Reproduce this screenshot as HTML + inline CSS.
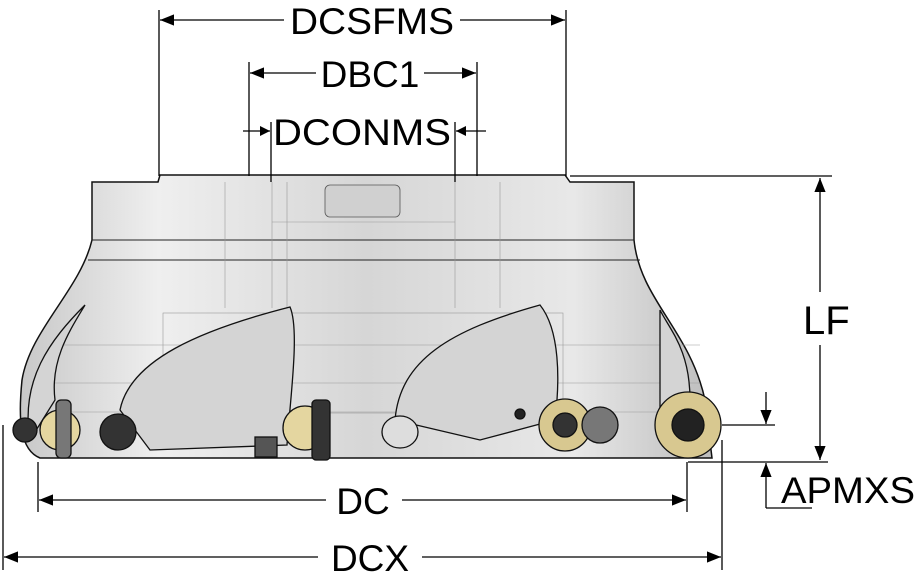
<!DOCTYPE html>
<html><head><meta charset="utf-8"><style>
html,body{margin:0;padding:0;background:#fff;width:918px;height:583px;overflow:hidden}
svg{display:block}
text{font-family:"Liberation Sans",sans-serif;fill:#000}
</style></head><body>
<svg width="918" height="583" viewBox="0 0 918 583" xmlns="http://www.w3.org/2000/svg">
<defs>
<linearGradient id="g" x1="0" y1="0" x2="1" y2="0">
<stop offset="0" stop-color="#c8c8c8"/><stop offset="0.2" stop-color="#efefef"/><stop offset="0.5" stop-color="#d6d6d6"/><stop offset="0.8" stop-color="#e8e8e8"/><stop offset="1" stop-color="#bdbdbd"/>
</linearGradient>
<marker id="a" viewBox="0 0 10 10" refX="10" refY="5" markerWidth="10" markerHeight="10" orient="auto-start-reverse" markerUnits="userSpaceOnUse"><path d="M0,0 L10,5 L0,10 z" fill="#000"/></marker>
<marker id="b" viewBox="0 0 10 10" refX="10" refY="5" markerWidth="14" markerHeight="14" orient="auto-start-reverse" markerUnits="userSpaceOnUse"><path d="M0,1 L10,5 L0,9 z" fill="#000"/></marker>
</defs>
<path d="M158,182 L160,175 L565,175 L570,182 L634,182 L634,240 C640,300 690,330 705,400 L712,458 L40,458 C20,450 18,420 22,380 C30,330 80,290 92,240 L92,182 Z" fill="url(#g)" stroke="#111" stroke-width="1.5"/>
<line x1="92" y1="240" x2="634" y2="240" stroke="#222" stroke-width="1"/>
<line x1="88" y1="260" x2="640" y2="260" stroke="#222" stroke-width="1"/>
<rect x="325" y="185" width="75" height="32" rx="5" fill="#d0d0d0" stroke="#555" stroke-width="0.8"/>
<g stroke="#999" stroke-width="0.6" fill="none">
<line x1="225" y1="182" x2="225" y2="308"/><line x1="272" y1="182" x2="272" y2="308"/>
<line x1="287" y1="182" x2="287" y2="308"/><line x1="455" y1="182" x2="455" y2="308"/>
<line x1="500" y1="182" x2="500" y2="308"/><line x1="272" y1="222" x2="455" y2="222"/>
<rect x="163" y="313" width="400" height="100"/>
<line x1="50" y1="345" x2="700" y2="345"/><line x1="50" y1="383" x2="700" y2="383"/><line x1="50" y1="412" x2="700" y2="412"/>
</g>
<g fill="#d4d4d4" stroke="#111" stroke-width="1.3">
<path d="M120,410 C130,360 200,330 290,307 C300,330 290,400 287,445 L150,450 Z"/>
<path d="M395,420 C400,360 450,330 540,305 C560,330 560,380 555,420 L480,440 Z"/>
<path d="M660,310 C670,330 690,350 690,400 L660,430 Z"/>
<path d="M30,440 C20,380 50,340 85,305 C70,330 50,360 55,400 Z"/>
</g>
<g stroke="#111" stroke-width="1.3">
<circle cx="25" cy="430" r="12" fill="#333"/>
<circle cx="60" cy="430" r="20" fill="#e4d6a0"/>
<rect x="56" y="400" width="15" height="58" rx="5" fill="#777"/>
<circle cx="118" cy="432" r="18" fill="#333"/>
<circle cx="305" cy="428" r="22" fill="#e4d6a0"/>
<rect x="312" y="400" width="18" height="60" rx="4" fill="#333"/>
<rect x="255" y="437" width="22" height="20" fill="#555"/>
<ellipse cx="400" cy="432" rx="18" ry="16" fill="#ddd"/>
<circle cx="520" cy="414" r="5" fill="#222"/>
<circle cx="565" cy="425" r="26" fill="#d8c890"/>
<circle cx="565" cy="425" r="12" fill="#333"/>
<circle cx="600" cy="425" r="18" fill="#777"/>
<circle cx="688" cy="425" r="33" fill="#d8c890"/>
<circle cx="688" cy="425" r="16" fill="#222"/>
</g>
<g stroke="#000" stroke-width="1.3" fill="none">
<line x1="159" y1="10" x2="159" y2="176"/><line x1="566" y1="10" x2="566" y2="176"/>
<line x1="160" y1="20" x2="284" y2="20" marker-start="url(#b)"/><line x1="460" y1="20" x2="565" y2="20" marker-end="url(#b)"/>
<line x1="249" y1="62" x2="249" y2="176"/><line x1="477" y1="62" x2="477" y2="176"/>
<line x1="250" y1="73" x2="316" y2="73" marker-start="url(#b)"/><line x1="424" y1="73" x2="476" y2="73" marker-end="url(#b)"/>
<line x1="271" y1="122" x2="271" y2="182"/><line x1="455" y1="122" x2="455" y2="182"/>
<line x1="243" y1="131" x2="270" y2="131" marker-end="url(#a)"/><line x1="486" y1="131" x2="456" y2="131" marker-end="url(#a)"/>
<line x1="570" y1="176" x2="832" y2="176"/>
<line x1="820" y1="178" x2="820" y2="292" marker-start="url(#b)"/><line x1="820" y1="345" x2="820" y2="460" marker-end="url(#b)"/>
<line x1="688" y1="462" x2="828" y2="462"/>
<line x1="722" y1="425" x2="775" y2="425"/>
<line x1="766" y1="392" x2="766" y2="424" marker-end="url(#b)"/>
<line x1="766" y1="508" x2="766" y2="463" marker-end="url(#b)"/><line x1="766" y1="508" x2="812" y2="508"/>
<line x1="38" y1="462" x2="38" y2="512"/><line x1="687" y1="462" x2="687" y2="512"/>
<line x1="39" y1="500" x2="326" y2="500" marker-start="url(#b)"/><line x1="402" y1="500" x2="686" y2="500" marker-end="url(#b)"/>
<line x1="3" y1="425" x2="3" y2="570"/><line x1="722" y1="440" x2="722" y2="570"/>
<line x1="4" y1="557" x2="318" y2="557" marker-start="url(#b)"/><line x1="422" y1="557" x2="721" y2="557" marker-end="url(#b)"/>
</g>
<g font-size="37">
<text x="372" y="34" text-anchor="middle" textLength="164" lengthAdjust="spacingAndGlyphs">DCSFMS</text>
<text x="370" y="87" text-anchor="middle">DBC1</text>
<text x="362" y="145" text-anchor="middle" textLength="178" lengthAdjust="spacingAndGlyphs">DCONMS</text>
<text x="803" y="334" font-size="40">LF</text>
<text x="781" y="503" textLength="134" lengthAdjust="spacingAndGlyphs">APMXS</text>
<text x="363" y="514" text-anchor="middle">DC</text>
<text x="370" y="571" text-anchor="middle">DCX</text>
</g>
</svg>
</body></html>
